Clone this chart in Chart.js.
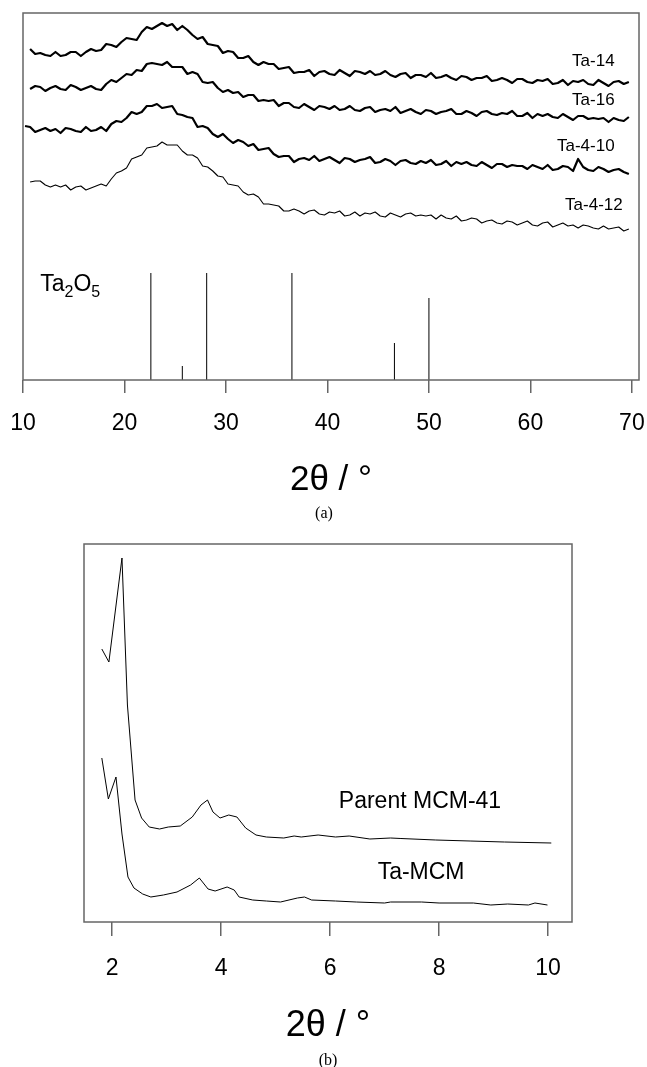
<!DOCTYPE html>
<html>
<head>
<meta charset="utf-8">
<script src="https://cdn.jsdelivr.net/npm/chart.js@4"></script>
<style>
html,body{margin:0;padding:0;background:#fff;}
body{width:647px;height:1067px;position:relative;overflow:hidden;}
#wrapA{position:absolute;left:0;top:0;width:647px;height:530px;}
#wrapB{position:absolute;left:0;top:530px;width:647px;height:537px;}
.cap{position:absolute;font-family:"Liberation Serif","Times New Roman",serif;font-size:16px;color:#000;transform:translate(-50%,-50%);white-space:nowrap;}
</style>
</head>
<body>
<div id="wrapA"><canvas id="ca"></canvas></div>
<div id="wrapB"><canvas id="cb"></canvas></div>
<div class="cap" style="left:324px;top:513px">(a)</div>
<div class="cap" style="left:328px;top:1060px">(b)</div>
<script>
// ---------- Panel (a): wide-angle XRD ----------
const aTicks = [10, 20, 30, 40, 50, 60, 70];
const twoTheta = [
  10.2,10.7,11.2,11.7,12.2,12.7,13.2,13.7,14.2,14.7,
  15.2,15.7,16.2,16.7,17.2,17.7,18.2,18.7,19.2,19.7,
  20.2,20.7,21.2,21.7,22.2,22.7,23.2,23.7,24.2,24.7,
  25.2,25.7,26.2,26.7,27.2,27.7,28.2,28.7,29.2,29.7,
  30.2,30.7,31.2,31.7,32.2,32.7,33.2,33.7,34.2,34.7,
  35.2,35.7,36.2,36.7,37.2,37.7,38.2,38.7,39.2,39.7,
  40.2,40.7,41.2,41.7,42.2,42.7,43.2,43.7,44.2,44.7,
  45.2,45.7,46.2,46.7,47.2,47.7,48.2,48.7,49.2,49.7,
  50.2,50.7,51.2,51.7,52.2,52.7,53.2,53.7,54.2,54.7,
  55.2,55.7,56.2,56.7,57.2,57.7,58.2,58.7,59.2,59.7,
  60.2,60.7,61.2,61.7,62.2,62.7,63.2,63.7,64.2,64.7,
  65.2,65.7,66.2,66.7,67.2,67.7,68.2,68.7,69.2,69.7
];
const ta14 = [
  null,331,326,327,325,324,328,324,325,328,
  328,324,328,331,329,330,336,335,333,338,
  342,341,340,348,353,351,354,357,354,356,
  350,354,350,345,341,343,336,335,334,327,
  329,328,322,322,324,318,315,318,316,316,
  311,312,313,307,308,308,310,304,308,309,
  306,305,310,307,304,309,308,306,309,305,
  306,309,305,303,306,307,302,305,305,303,
  307,302,303,305,302,300,304,303,300,302,
  302,304,299,300,302,300,297,301,301,298,
  297,300,299,301,296,297,300,295,299,298,
  300,296,295,300,297,294,298,299,296,298
];
const ta16 = [
  null,291,294,293,289,292,294,291,290,295,
  293,290,292,294,291,290,296,300,298,302,
  306,305,310,309,316,317,316,315,318,313,
  313,313,306,308,306,298,297,298,292,288,
  290,287,288,283,285,285,279,280,279,280,
  274,277,277,273,272,276,273,270,274,273,
  271,274,270,271,274,270,269,272,273,268,
  270,271,269,273,267,269,271,268,266,270,
  269,266,268,269,271,266,266,269,267,264,
  268,269,266,265,267,266,269,264,264,267,
  262,266,264,266,263,262,266,263,260,264,
  264,261,262,261,262,258,262,260,259,263
];
const ta4_10 = [
  254,253,248,250,252,249,251,247,252,251,
  249,248,253,249,250,253,249,256,259,258,
  262,268,266,268,274,274,276,272,273,274,
  266,265,263,262,253,254,252,246,243,246,
  241,237,240,238,234,236,230,231,232,226,
  223,224,224,218,221,222,220,224,219,221,
  223,220,217,222,221,218,220,221,223,217,
  218,221,219,215,219,220,217,216,219,217,
  220,215,216,219,214,218,216,218,215,214,
  218,215,212,216,216,213,215,214,214,211,
  215,213,211,215,210,211,214,213,209,221,
  213,210,209,213,211,208,210,211,208,206
];
const ta4_12 = [
  null,198,199,199,195,193,195,193,195,190,
  193,194,190,192,194,196,194,201,207,209,
  212,221,223,225,232,233,234,238,235,235,
  235,229,225,225,222,214,213,209,204,203,
  196,195,194,188,185,186,183,176,176,175,
  174,169,169,171,169,166,169,170,166,165,
  168,167,169,164,165,168,164,167,166,168,
  164,163,167,165,163,166,167,164,165,164,
  165,161,165,162,161,164,159,160,162,161,
  157,159,160,157,156,159,158,155,157,159,
  155,154,157,158,153,155,157,154,155,152,
  155,154,152,151,154,151,152,153,149,151
];
// Ta2O5 reference pattern (stick positions and heights)
const ta2o5Pos = [22.6, 25.7, 28.1, 36.5, 46.6, 50.0];
const ta2o5Int = [107, 14, 107, 107, 37, 82];

// ---------- Panel (b): low-angle XRD ----------
const bTicks = [2, 4, 6, 8, 10];
const parentX = [1.81,1.94,2.18,2.28,2.42,2.54,2.68,2.87,3.03,3.25,3.47,3.63,3.75,3.85,3.98,4.14,4.29,4.45,4.64,4.83,5.15,5.34,5.47,5.78,6.10,6.35,6.73,7.11,7.30,7.94,8.57,9.20,10.06];
const parentY = [273,260,364,217,122,104,95,93,95,96,105,117,122,110,104,107,105,94,87,85,84,86,85,87,85,86,83,84,83.5,82,81,80,79];
const taMcmX = [1.81,1.93,2.07,2.18,2.29,2.40,2.56,2.71,2.94,3.19,3.44,3.60,3.76,3.89,4.11,4.24,4.33,4.58,4.83,5.09,5.40,5.53,5.66,6.10,6.48,7.00,7.11,7.68,8.00,8.63,8.95,9.26,9.64,9.76,9.99];
const taMcmY = [164,123,145,88,45,34,28,25,27,30,37,44,33,31,35,32,25,22,21,20,24,25,22,21,20,19,20,20,19,19,17,18,17,19,17];

// ---------- helpers ----------
const FAMILY = "'Liberation Sans', Arial, sans-serif";
Chart.defaults.font.family = FAMILY;
const pts = (xs, ys) => xs.map((x, i) => ({x: x, y: ys[i]}));
const sticks = [];
ta2o5Pos.forEach((p, i) => { sticks.push({x: p, y: 0}, {x: p, y: ta2o5Int[i]}, {x: p, y: null}); });

const framePlugin = {
  id: 'frame',
  afterDraw(chart) {
    const {ctx, chartArea: a} = chart;
    ctx.save();
    ctx.strokeStyle = '#666';
    ctx.lineWidth = 1.5;
    ctx.strokeRect(a.left, a.top, a.right - a.left, a.bottom - a.top);
    ctx.restore();
  }
};

const textPlugin = {
  id: 'textLabels',
  afterDatasetsDraw(chart, args, opts) {
    const {ctx, scales} = chart;
    ctx.save();
    ctx.fillStyle = '#000';
    for (const it of opts.items) {
      const parts = typeof it.text === 'string' ? [{t: it.text}] : it.text;
      const size = it.size || opts.size;
      const fonts = parts.map(p => (p.sub ? opts.subSize : size) + 'px ' + FAMILY);
      let w = 0;
      parts.forEach((p, i) => { ctx.font = fonts[i]; w += ctx.measureText(p.t).width; });
      let px = scales.x.getPixelForValue(it.x);
      const py = scales.y.getPixelForValue(it.y);
      if (it.align === 'right') px -= w; else if (it.align === 'center') px -= w / 2;
      ctx.textAlign = 'left';
      ctx.textBaseline = it.baseline || 'middle';
      parts.forEach((p, i) => {
        ctx.font = fonts[i];
        ctx.fillText(p.t, px, py + (p.sub ? opts.subShift : 0));
        px += ctx.measureText(p.t).width;
      });
    }
    ctx.restore();
  }
};

function xAxis(min, max, tickList, height, tickLen, tickPad, titleSize, titlePad) {
  return {
    type: 'linear', position: 'bottom', min: min, max: max, bounds: 'data',
    afterBuildTicks: s => { s.ticks = tickList.map(v => ({value: v})); },
    afterFit: s => { s.height = height; s.paddingLeft = 0; s.paddingRight = 0; },
    ticks: {color: '#000', font: {size: 23}, padding: tickPad, maxRotation: 0, autoSkip: false},
    grid: {drawOnChartArea: false, drawTicks: true, tickLength: tickLen, color: '#666', lineWidth: 1.5},
    border: {display: false},
    title: {display: true, text: '2θ / °', color: '#000', font: {size: titleSize}, padding: {top: 0, bottom: titlePad}}
  };
}

const common = {
  responsive: true, maintainAspectRatio: false, animation: false, devicePixelRatio: 1,
  elements: {line: {tension: 0, borderJoinStyle: 'round'}, point: {radius: 0}},
};

new Chart(document.getElementById('ca'), {
  type: 'line',
  data: {datasets: [
    {label: 'Ta-14', data: pts(twoTheta, ta14), borderColor: '#000', borderWidth: 2.2},
    {label: 'Ta-16', data: pts(twoTheta, ta16), borderColor: '#000', borderWidth: 2.2},
    {label: 'Ta-4-10', data: pts(twoTheta, ta4_10), borderColor: '#000', borderWidth: 2.2},
    {label: 'Ta-4-12', data: pts(twoTheta, ta4_12), borderColor: '#000', borderWidth: 1.1},
    {label: 'Ta2O5', data: sticks, borderColor: '#000', borderWidth: 1, spanGaps: false}
  ]},
  options: Object.assign({}, common, {
    layout: {padding: {left: 23, right: 8, top: 13, bottom: 0}},
    plugins: {
      legend: {display: false}, tooltip: {enabled: false},
      textLabels: {size: 17, subSize: 16, subShift: 6, items: [
        {text: 'Ta-14', x: 68.3, y: 318.5, align: 'right'},
        {text: 'Ta-16', x: 68.3, y: 280, align: 'right'},
        {text: 'Ta-4-10', x: 68.3, y: 234, align: 'right'},
        {text: 'Ta-4-12', x: 69.1, y: 175, align: 'right'},
        {text: [{t: 'Ta'}, {t: '2', sub: true}, {t: 'O'}, {t: '5', sub: true}], x: 11.7, y: 89, align: 'left', baseline: 'alphabetic', size: 23}
      ]}
    },
    scales: {
      x: xAxis(10, 70.7, aTicks, 150, 13, 17, 35, 29),
      y: {type: 'linear', display: false, min: 0, max: 367}
    }
  }),
  plugins: [framePlugin, textPlugin]
});

new Chart(document.getElementById('cb'), {
  type: 'line',
  data: {datasets: [
    {label: 'Parent MCM-41', data: pts(parentX, parentY), borderColor: '#000', borderWidth: 1},
    {label: 'Ta-MCM', data: pts(taMcmX, taMcmY), borderColor: '#000', borderWidth: 1}
  ]},
  options: Object.assign({}, common, {
    layout: {padding: {left: 84, right: 75, top: 14, bottom: 0}},
    plugins: {
      legend: {display: false}, tooltip: {enabled: false},
      textLabels: {size: 23, subSize: 16, subShift: 6, items: [
        {text: 'Parent MCM-41', x: 7.65, y: 120, align: 'center'},
        {text: 'Ta-MCM', x: 7.67, y: 49, align: 'center'}
      ]}
    },
    scales: {
      x: xAxis(1.483, 10.44, bTicks, 145, 14, 19, 36, 19),
      y: {type: 'linear', display: false, min: 0, max: 378}
    }
  }),
  plugins: [framePlugin, textPlugin]
});
</script>
</body>
</html>
